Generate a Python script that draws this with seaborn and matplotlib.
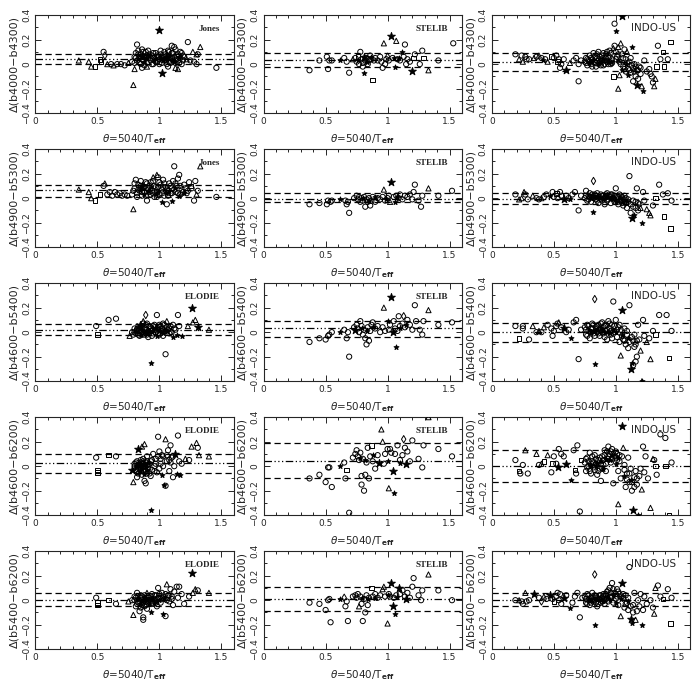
import pandas as pd
import seaborn as sns
import matplotlib.pyplot as plt
from matplotlib.ticker import MultipleLocator

# point kinds: c = circle, t = triangle, s = square, d = diamond, k = star, f = filled small star
jones_4000_4300 = [
    (0.35, 0.03, 't'), (0.43, 0.02, 't'), (0.45, -0.02, 't'), (0.48, -0.02, 's'), (0.52, 0.04, 's'),
    (0.53, 0.02, 's'), (0.55, 0.10, 'c'), (0.56, 0.07, 'd'), (0.58, 0.00, 't'), (0.61, 0.00, 'c'),
    (0.63, -0.01, 't'), (0.66, 0.00, 'c'), (0.69, 0.00, 'c'), (0.72, -0.01, 'c'), (0.75, 0.01, 't'),
    (0.79, -0.17, 't'), (0.80, -0.04, 't'), (0.82, 0.16, 'c'),
    (0.78, 0.02, 'c'), (0.80, 0.06, 'c'), (0.81, 0.09, 'c'), (0.82, 0.03, 'c'), (0.83, 0.11, 'c'),
    (0.84, 0.05, 'c'), (0.85, 0.00, 'c'), (0.85, 0.08, 'c'), (0.86, 0.12, 'c'), (0.87, 0.03, 'c'),
    (0.88, 0.06, 'c'), (0.89, 0.10, 'c'), (0.90, 0.01, 'c'), (0.91, 0.05, 'c'), (0.92, 0.08, 'c'),
    (0.93, 0.03, 'c'), (0.94, 0.07, 'c'), (0.95, 0.00, 'c'), (0.96, 0.05, 'c'), (0.97, 0.09, 'c'),
    (0.98, 0.02, 'c'), (0.99, 0.06, 'c'), (1.00, 0.04, 'c'), (1.01, 0.08, 'c'), (1.02, 0.01, 'c'),
    (1.03, 0.06, 'c'), (1.04, 0.10, 'c'), (1.05, 0.03, 'c'), (1.06, 0.07, 'c'), (1.07, 0.11, 'c'),
    (1.08, 0.02, 'c'), (1.09, 0.05, 'c'), (1.10, 0.09, 'c'), (1.11, 0.03, 'c'), (1.12, 0.06, 'c'),
    (1.13, 0.12, 'c'), (1.14, 0.04, 'c'), (1.15, 0.08, 'c'), (1.16, 0.01, 'c'), (1.17, 0.05, 'c'),
    (1.18, 0.09, 'c'), (1.19, 0.03, 'c'), (1.20, 0.06, 'c'),
    (0.83, 0.04, 'f'), (0.88, 0.02, 'f'), (0.92, 0.07, 'f'), (0.97, 0.04, 'f'), (1.03, 0.03, 'f'),
    (1.08, 0.07, 'f'), (1.12, 0.02, 'f'), (1.16, 0.06, 'f'), (0.86, 0.07, 'k'), (1.05, 0.05, 'k'),
    (0.90, -0.02, 't'), (1.13, -0.03, 't'), (1.15, -0.04, 't'), (1.27, 0.10, 't'), (1.33, 0.14, 't'),
    (1.30, 0.08, 't'), (1.22, 0.04, 't'),
    (1.00, 0.28, 'k'), (1.02, -0.07, 'k'), (1.10, 0.15, 'c'), (1.12, 0.14, 'c'), (1.23, 0.18, 'c'),
    (1.25, 0.03, 'c'), (1.28, 0.02, 'c'), (1.30, 0.00, 'c'), (1.31, 0.08, 'c'), (1.46, -0.03, 'c'),
    (1.07, -0.02, 'c'), (0.86, -0.03, 'c'),
]
jones_4000_4300_core = [
    (0.80, 0.01, 'c'), (0.81, 0.05, 'c'), (0.83, 0.08, 'c'), (0.84, 0.01, 'c'), (0.86, 0.04, 'c'),
    (0.87, 0.10, 'c'), (0.88, -0.01, 'c'), (0.90, 0.07, 'c'), (0.91, 0.11, 'c'), (0.93, 0.05, 'c'),
    (0.94, 0.00, 'c'), (0.95, 0.09, 'c'), (0.97, 0.02, 'c'), (0.98, 0.07, 'c'), (1.00, 0.00, 'c'),
    (1.01, 0.11, 'c'), (1.02, 0.05, 'c'), (1.04, 0.03, 'c'), (1.05, 0.08, 'c'), (1.06, 0.00, 'c'),
    (1.08, 0.10, 'c'), (1.09, 0.01, 'c'), (1.10, 0.05, 'c'), (1.11, 0.09, 'c'), (1.13, 0.01, 'c'),
    (1.14, 0.07, 'c'), (1.15, 0.03, 'c'), (1.17, 0.10, 'c'), (1.18, 0.00, 'c'), (1.19, 0.07, 'c'),
    (0.96, 0.03, 'f'), (1.01, 0.05, 'f'), (1.06, 0.05, 'f'), (1.10, 0.03, 'f'), (0.89, 0.05, 'f'),
]
stelib_4000_4300 = [
    (0.37, -0.05, 'c'), (0.45, 0.03, 'c'), (0.51, 0.06, 'c'), (0.52, -0.04, 'c'), (0.53, 0.03, 'c'),
    (0.55, 0.03, 'c'), (0.62, 0.03, 'f'), (0.65, 0.05, 'c'), (0.67, 0.02, 'c'), (0.69, -0.07, 'c'),
    (0.72, 0.04, 't'), (0.74, 0.05, 'c'), (0.75, 0.02, 'c'), (0.76, 0.06, 's'), (0.77, 0.00, 'c'),
    (0.78, 0.10, 'c'), (0.79, 0.04, 'c'), (0.80, 0.01, 'c'), (0.80, -0.02, 'c'), (0.81, -0.07, 'f'),
    (0.81, 0.06, 'k'), (0.82, 0.03, 'c'), (0.83, 0.05, 'c'), (0.84, 0.00, 'c'), (0.85, 0.03, 'c'),
    (0.86, 0.07, 'c'), (0.87, 0.04, 'c'), (0.88, -0.13, 's'), (0.89, 0.03, 'c'), (0.90, 0.05, 'c'),
    (0.92, 0.03, 'c'), (0.94, 0.06, 'c'), (0.95, 0.02, 'c'), (0.96, -0.03, 'c'), (0.97, 0.17, 't'),
    (0.98, 0.00, 'c'), (0.99, 0.04, 'c'), (1.00, 0.06, 'd'), (1.01, 0.03, 'c'), (1.03, 0.23, 'k'),
    (1.04, 0.05, 'c'), (1.05, 0.05, 'f'), (1.06, -0.02, 'f'), (1.07, 0.19, 't'), (1.08, 0.04, 'c'),
    (1.10, 0.03, 'c'), (1.12, 0.10, 'f'), (1.13, 0.06, 'c'), (1.14, 0.16, 'c'), (1.15, 0.00, 'c'),
    (1.16, 0.04, 'c'), (1.18, 0.02, 'c'), (1.20, -0.06, 'k'), (1.21, 0.05, 's'), (1.22, 0.08, 'c'),
    (1.26, 0.00, 'c'), (1.28, 0.11, 'c'), (1.29, 0.05, 's'), (1.33, -0.05, 't'), (1.41, 0.03, 'c'),
    (1.53, 0.17, 'c'), (0.83, 0.02, 'f'), (0.76, 0.03, 'f'), (0.87, 0.06, 'f'), (1.09, 0.05, 'f'),
]
indous_4000_4300 = [
    (0.19, 0.08, 'c'), (0.22, 0.04, 't'), (0.24, 0.07, 'c'), (0.25, 0.02, 't'), (0.27, 0.06, 'c'),
    (0.28, 0.04, 'c'), (0.30, 0.04, 'c'), (0.34, 0.05, 't'), (0.36, 0.06, 'c'), (0.38, 0.07, 't'),
    (0.40, 0.05, 'c'), (0.41, 0.03, 'f'), (0.43, 0.04, 'c'), (0.45, 0.02, 't'), (0.48, 0.06, 's'),
    (0.50, 0.05, 'c'), (0.52, 0.07, 'c'), (0.53, 0.02, 's'), (0.54, 0.04, 'c'), (0.55, -0.03, 'c'),
    (0.56, 0.00, 'c'), (0.58, 0.04, 'c'), (0.60, -0.05, 'k'), (0.63, 0.01, 't'), (0.66, 0.03, 'c'),
    (0.68, 0.05, 'c'), (0.70, 0.00, 'c'), (0.70, -0.14, 'c'), (0.72, 0.03, 'c'),
    (0.75, 0.02, 'c'), (0.76, 0.05, 'c'), (0.77, -0.01, 'c'), (0.78, 0.03, 'c'), (0.79, 0.07, 'c'),
    (0.80, 0.00, 'c'), (0.81, 0.04, 'c'), (0.82, 0.09, 'c'), (0.83, 0.02, 'c'), (0.84, -0.02, 'c'),
    (0.85, 0.05, 'c'), (0.86, 0.10, 'c'), (0.87, 0.01, 'c'), (0.88, 0.04, 'c'), (0.89, 0.07, 'c'),
    (0.90, -0.01, 'c'), (0.91, 0.03, 'c'), (0.92, 0.08, 'c'), (0.93, 0.02, 'c'), (0.94, 0.05, 'c'),
    (0.95, 0.11, 'c'), (0.96, 0.00, 'c'), (0.97, 0.04, 'c'), (0.98, 0.13, 't'), (0.78, 0.01, 'f'),
    (0.82, 0.03, 'f'), (0.86, 0.00, 'f'), (0.90, 0.04, 'f'), (0.94, 0.02, 'f'),
    (0.99, 0.33, 'c'), (1.00, 0.27, 'f'), (1.05, 0.39, 'k'), (0.99, 0.15, 'c'), (1.00, 0.10, 'c'),
    (1.01, 0.06, 'c'), (1.02, 0.14, 't'), (1.03, 0.02, 'c'), (1.04, 0.17, 't'), (1.05, 0.08, 'c'),
    (1.06, -0.02, 'c'), (1.07, 0.12, 'c'), (1.08, 0.04, 'c'), (1.09, 0.10, 't'), (1.10, -0.04, 'c'),
    (1.11, 0.02, 'c'), (1.12, -0.07, 'c'), (1.13, 0.14, 'f'), (1.14, -0.03, 'c'), (1.15, 0.00, 'c'),
    (1.16, -0.10, 'c'), (1.17, -0.05, 'c'), (1.18, -0.12, 'c'), (1.19, -0.02, 'c'), (1.20, -0.08, 'c'),
    (1.21, -0.18, 't'), (1.22, -0.22, 'f'), (1.17, -0.17, 'k'), (1.02, -0.20, 't'), (1.03, -0.09, 't'),
    (0.98, -0.10, 's'), (1.05, -0.05, 'f'), (1.10, -0.09, 'f'), (1.14, -0.14, 'c'), (1.23, 0.03, 'c'),
    (1.25, -0.06, 'c'), (1.28, -0.08, 'c'), (1.29, -0.10, 'c'), (1.30, -0.15, 'c'), (1.31, -0.18, 't'),
    (1.32, -0.12, 't'), (1.34, 0.15, 'c'), (1.33, -0.02, 's'), (1.36, 0.04, 'c'), (1.38, 0.10, 's'),
    (1.39, -0.02, 's'), (1.42, 0.04, 'c'), (1.44, 0.18, 's'), (1.27, -0.04, 'c'), (1.08, -0.06, 'c'),
    (1.12, 0.05, 'c'),
]
indous_4000_4300_core = [
    (0.76, 0.01, 'c'), (0.77, 0.04, 'c'), (0.79, 0.02, 'c'), (0.80, 0.05, 'c'), (0.81, -0.02, 'c'),
    (0.83, 0.06, 'c'), (0.84, 0.01, 'c'), (0.85, 0.08, 'c'), (0.86, 0.03, 'c'), (0.87, 0.06, 'c'),
    (0.88, -0.01, 'c'), (0.89, 0.03, 'c'), (0.90, 0.09, 'c'), (0.91, 0.00, 'c'), (0.92, 0.05, 'c'),
    (0.93, 0.10, 'c'), (0.94, 0.00, 'c'), (0.95, 0.06, 'c'), (0.96, 0.09, 'c'), (0.97, 0.01, 'c'),
    (1.00, 0.04, 'c'), (1.02, 0.08, 'c'), (1.04, 0.00, 'c'), (1.06, 0.05, 'c'), (1.07, -0.04, 'c'),
    (1.09, 0.01, 'c'), (1.11, -0.05, 'c'), (1.13, -0.01, 'c'), (1.15, -0.06, 'c'), (1.16, -0.02, 'c'),
    (1.18, -0.05, 'c'), (1.20, -0.03, 'c'), (0.80, 0.02, 'f'), (0.88, 0.02, 'f'), (0.96, 0.02, 'f'),
    (1.02, 0.03, 'f'), (1.08, 0.00, 'f'),
]
jones_4900_5300 = [
    (0.35, 0.07, 't'), (0.43, 0.05, 't'), (0.45, 0.00, 't'), (0.48, -0.02, 's'), (0.52, 0.03, 's'),
    (0.55, 0.10, 'c'), (0.56, 0.12, 't'), (0.58, 0.03, 'c'), (0.60, 0.05, 'c'), (0.62, 0.02, 'c'),
    (0.64, 0.05, 'c'), (0.66, 0.03, 'c'), (0.68, 0.04, 'c'), (0.70, 0.02, 'c'), (0.72, 0.03, 'c'),
    (0.74, 0.02, 'c'), (0.79, -0.09, 't'),
    (0.78, 0.03, 'c'), (0.80, 0.08, 'c'), (0.81, 0.15, 'c'), (0.82, 0.04, 'c'), (0.83, 0.11, 'c'),
    (0.84, 0.06, 'c'), (0.85, 0.14, 'c'), (0.86, 0.02, 'c'), (0.87, 0.09, 'c'), (0.88, 0.05, 'c'),
    (0.89, 0.13, 'c'), (0.90, -0.02, 'c'), (0.91, 0.07, 'c'), (0.92, 0.10, 'c'), (0.93, 0.03, 'c'),
    (0.94, 0.06, 'c'), (0.95, 0.14, 'c'), (0.96, 0.01, 'c'), (0.97, 0.09, 'c'), (0.98, 0.05, 'c'),
    (0.99, 0.17, 'c'), (1.00, 0.03, 'c'), (1.01, 0.11, 'c'), (1.02, 0.07, 'c'), (1.03, 0.15, 'c'),
    (1.04, 0.02, 'c'), (1.05, 0.09, 'c'), (1.06, -0.05, 'c'), (1.07, 0.06, 'c'), (1.08, 0.12, 'c'),
    (1.09, 0.04, 'c'), (1.10, 0.08, 'c'), (1.11, 0.14, 'c'), (1.12, 0.26, 'c'), (1.13, 0.05, 'c'),
    (1.14, 0.10, 'c'), (1.15, 0.16, 'c'), (1.16, 0.19, 'c'), (1.17, 0.03, 'c'), (1.18, 0.07, 'c'),
    (1.20, 0.11, 'c'), (1.22, 0.04, 'c'), (1.24, 0.13, 'c'), (1.26, 0.08, 'c'), (1.28, -0.02, 'c'),
    (1.29, 0.14, 'c'), (1.30, 0.03, 't'), (1.31, 0.06, 'c'), (1.33, 0.26, 't'), (1.46, 0.01, 'c'),
    (0.98, 0.19, 't'), (0.95, 0.17, 't'), (1.02, -0.03, 'f'), (1.10, -0.02, 'f'), (0.84, 0.07, 'f'),
    (0.88, 0.03, 'f'), (0.93, 0.09, 'f'), (0.99, 0.06, 'f'), (1.05, 0.04, 'f'), (1.13, 0.08, 'f'),
    (1.16, 0.02, 'f'), (1.25, 0.10, 's'), (0.86, 0.10, 'k'),
]
jones_4900_5300_core = [
    (0.79, 0.06, 'c'), (0.80, 0.12, 'c'), (0.82, 0.01, 'c'), (0.83, 0.07, 'c'), (0.85, 0.10, 'c'),
    (0.86, 0.05, 'c'), (0.88, 0.09, 'c'), (0.89, 0.02, 'c'), (0.90, 0.12, 'c'), (0.92, 0.05, 'c'),
    (0.93, 0.13, 'c'), (0.95, 0.04, 'c'), (0.96, 0.10, 'c'), (0.98, 0.01, 'c'), (0.99, 0.09, 'c'),
    (1.00, 0.13, 'c'), (1.02, 0.04, 'c'), (1.03, 0.09, 'c'), (1.04, 0.12, 'c'), (1.06, 0.07, 'c'),
    (1.07, 0.02, 'c'), (1.09, 0.10, 'c'), (1.10, 0.04, 'c'), (1.12, 0.07, 'c'), (1.13, 0.12, 'c'),
    (1.15, 0.04, 'c'), (1.17, 0.10, 'c'), (1.19, 0.05, 'c'), (1.21, 0.08, 'c'), (1.23, 0.06, 'c'),
    (0.91, 0.06, 'f'), (0.97, 0.03, 'f'), (1.08, 0.06, 'f'), (1.20, 0.04, 'f'),
]
stelib_4900_5300 = [
    (0.37, -0.05, 'c'), (0.45, -0.04, 'c'), (0.51, -0.05, 'c'), (0.52, -0.02, 'c'), (0.54, -0.03, 'c'),
    (0.55, -0.02, 'c'), (0.62, -0.01, 'f'), (0.66, -0.02, 'c'), (0.67, -0.05, 'c'), (0.68, -0.03, 'c'),
    (0.69, -0.12, 'c'), (0.73, 0.00, 'c'), (0.75, 0.02, 'c'), (0.76, -0.01, 'c'), (0.77, 0.01, 'c'),
    (0.78, -0.03, 'c'), (0.79, 0.00, 'c'), (0.80, -0.02, 'c'), (0.81, 0.01, 'c'), (0.82, -0.07, 'c'),
    (0.83, -0.01, 'c'), (0.84, -0.03, 'c'), (0.85, 0.00, 'c'), (0.86, -0.06, 'c'), (0.87, -0.02, 'c'),
    (0.88, 0.01, 'c'), (0.90, -0.03, 'c'), (0.92, 0.00, 'c'), (0.94, -0.01, 'c'), (0.96, 0.01, 'c'),
    (0.97, 0.07, 't'), (0.98, -0.02, 'c'), (1.00, 0.00, 'c'), (1.01, 0.02, 'c'), (1.02, -0.03, 't'),
    (1.03, 0.13, 'k'), (1.05, 0.01, 'c'), (1.06, -0.03, 'f'), (1.07, 0.02, 'c'), (1.09, 0.00, 'c'),
    (1.10, 0.03, 'c'), (1.12, -0.01, 'c'), (1.14, 0.02, 'c'), (1.16, 0.01, 'c'), (1.18, 0.03, 'c'),
    (1.20, -0.01, 'c'), (1.21, 0.05, 'c'), (1.22, 0.11, 'c'), (1.25, -0.02, 'c'), (1.27, -0.07, 'c'),
    (1.28, 0.02, 'c'), (1.33, 0.08, 't'), (1.41, 0.02, 'c'), (1.52, 0.06, 'c'), (0.80, 0.00, 'f'),
    (0.85, -0.02, 'f'), (0.90, 0.01, 'f'), (0.99, -0.01, 'f'), (1.08, 0.01, 'f'),
]
indous_4900_5300 = [
    (0.19, 0.03, 'c'), (0.22, -0.01, 't'), (0.24, 0.00, 't'), (0.26, 0.05, 't'), (0.27, 0.03, 'c'),
    (0.29, -0.01, 'c'), (0.33, 0.02, 't'), (0.36, 0.00, 'c'), (0.38, -0.01, 'c'), (0.40, 0.00, 't'),
    (0.42, 0.01, 'c'), (0.44, 0.03, 'c'), (0.47, 0.02, 'f'), (0.49, 0.05, 'c'), (0.50, 0.01, 'c'),
    (0.52, 0.04, 's'), (0.53, 0.00, 'c'), (0.55, 0.05, 'c'), (0.56, 0.02, 'c'), (0.58, -0.01, 'k'),
    (0.60, 0.02, 'c'), (0.62, 0.00, 'c'), (0.63, -0.01, 'f'), (0.65, 0.03, 'c'), (0.67, 0.05, 'c'),
    (0.70, -0.10, 'c'), (0.72, 0.02, 'c'),
    (0.75, 0.00, 'c'), (0.76, 0.06, 'c'), (0.77, -0.02, 'c'), (0.78, 0.02, 'c'), (0.79, 0.04, 'c'),
    (0.80, -0.03, 'c'), (0.81, 0.01, 'c'), (0.82, 0.14, 'd'), (0.82, -0.11, 'f'), (0.83, 0.03, 'c'),
    (0.84, -0.01, 'c'), (0.85, 0.04, 'c'), (0.86, -0.04, 'c'), (0.87, 0.01, 'c'), (0.88, 0.03, 'c'),
    (0.89, -0.02, 'c'), (0.90, 0.02, 'c'), (0.91, -0.05, 'c'), (0.92, 0.01, 'c'), (0.93, 0.04, 'c'),
    (0.94, -0.01, 'c'), (0.95, 0.02, 'c'), (0.96, -0.04, 'c'), (0.97, 0.03, 'c'), (0.98, 0.00, 'c'),
    (0.99, -0.03, 'c'), (1.00, 0.08, 'c'), (1.01, 0.01, 'c'), (1.02, -0.05, 'c'), (1.03, 0.03, 'c'),
    (1.04, -0.02, 'c'), (1.05, 0.01, 'c'), (1.06, -0.06, 'c'), (1.07, 0.02, 'c'), (1.08, -0.04, 'c'),
    (1.09, -0.08, 'c'), (1.10, -0.01, 'c'), (1.11, 0.18, 'c'), (1.12, -0.12, 'c'), (1.13, -0.16, 'k'),
    (1.14, -0.07, 'c'), (1.15, -0.14, 'f'), (1.16, -0.03, 'c'), (1.17, 0.08, 'c'), (1.18, -0.10, 'c'),
    (1.19, -0.05, 'c'), (1.20, -0.08, 't'), (1.21, -0.20, 'f'), (1.22, 0.05, 'c'), (1.23, -0.02, 'c'),
    (1.25, -0.09, 't'), (1.27, -0.12, 't'), (1.28, -0.14, 't'), (1.30, -0.06, 'c'), (1.32, 0.00, 's'),
    (1.35, 0.11, 'c'), (1.38, 0.03, 'c'), (1.39, -0.15, 's'), (1.42, 0.04, 'c'), (1.44, -0.25, 's'),
    (1.45, -0.02, 'c'), (0.80, 0.00, 'f'), (0.85, 0.01, 'f'), (0.90, -0.01, 'f'), (0.95, 0.00, 'f'),
    (1.00, -0.02, 'f'), (1.05, -0.03, 'f'),
]
indous_4900_5300_core = [
    (0.76, 0.02, 'c'), (0.78, -0.01, 'c'), (0.79, 0.01, 'c'), (0.81, 0.03, 'c'), (0.82, 0.00, 'c'),
    (0.84, 0.02, 'c'), (0.85, -0.02, 'c'), (0.86, 0.01, 'c'), (0.88, -0.01, 'c'), (0.89, 0.02, 'c'),
    (0.91, 0.00, 'c'), (0.92, 0.03, 'c'), (0.93, -0.02, 'c'), (0.95, 0.01, 'c'), (0.96, 0.03, 'c'),
    (0.98, -0.01, 'c'), (0.99, 0.02, 'c'), (1.01, -0.02, 'c'), (1.02, 0.01, 'c'), (1.04, 0.02, 'c'),
    (1.05, -0.04, 'c'), (1.07, -0.01, 'c'), (1.08, 0.00, 'c'), (1.10, -0.03, 'c'), (1.12, -0.05, 'c'),
    (1.14, -0.02, 'c'), (1.16, -0.08, 'c'), (1.18, -0.04, 'c'), (0.83, 0.01, 'f'), (0.87, 0.00, 'f'),
    (0.92, 0.01, 'f'), (0.97, 0.00, 'f'), (1.03, 0.00, 'f'), (1.09, -0.02, 'f'),
]
elodie_4600_5400 = [
    (0.49, 0.05, 'c'), (0.50, -0.02, 's'), (0.59, 0.10, 'c'), (0.65, 0.11, 'c'), (0.76, -0.03, 't'),
    (0.78, 0.00, 'c'), (0.79, -0.02, 'c'), (0.80, 0.03, 'c'), (0.81, -0.01, 'c'), (0.82, 0.05, 't'),
    (0.83, 0.01, 'c'), (0.84, -0.03, 'c'), (0.85, 0.04, 'c'), (0.86, 0.00, 'c'), (0.87, 0.07, 'c'),
    (0.88, -0.02, 'c'), (0.89, 0.14, 'd'), (0.90, 0.02, 'c'), (0.91, -0.04, 'c'), (0.92, 0.05, 'c'),
    (0.93, -0.25, 'f'), (0.94, 0.01, 'c'), (0.95, -0.01, 'c'), (0.96, 0.04, 'c'), (0.97, 0.00, 'c'),
    (0.98, 0.14, 'c'), (0.99, 0.03, 'c'), (1.00, -0.02, 'c'), (1.01, 0.05, 'c'), (1.02, 0.01, 'c'),
    (1.03, -0.03, 'c'), (1.04, 0.06, 'c'), (1.05, -0.18, 'c'), (1.06, 0.09, 't'), (1.07, 0.02, 'c'),
    (1.08, -0.01, 'c'), (1.09, 0.05, 'c'), (1.10, 0.00, 'c'), (1.11, -0.04, 'f'), (1.12, 0.03, 'c'),
    (1.14, -0.02, 'f'), (1.15, 0.14, 'c'), (1.16, 0.05, 'c'), (1.18, -0.03, 'f'), (1.23, 0.05, 't'),
    (1.26, 0.20, 'k'), (1.27, 0.08, 't'), (1.29, 0.10, 't'), (1.31, 0.04, 'k'), (1.40, 0.02, 't'),
    (0.83, 0.04, 'f'), (0.86, 0.02, 'f'), (0.89, -0.01, 'f'), (0.92, 0.01, 'f'), (0.95, 0.03, 'f'),
    (0.98, -0.03, 'f'), (1.01, 0.00, 'f'), (1.04, 0.02, 'f'), (0.87, 0.09, 't'), (0.84, 0.06, 'k'),
    (0.81, 0.01, 'f'), (1.00, 0.06, 'c'), (0.90, 0.07, 'c'), (0.96, 0.06, 'c'),
]
elodie_4600_5400_core = [
    (0.80, 0.00, 'c'), (0.82, 0.02, 'c'), (0.83, -0.02, 'c'), (0.85, 0.01, 'c'), (0.86, 0.05, 'c'),
    (0.87, -0.01, 'c'), (0.88, 0.03, 'c'), (0.89, 0.06, 'c'), (0.90, -0.02, 'c'), (0.91, 0.01, 'c'),
    (0.93, 0.03, 'c'), (0.94, -0.03, 'c'), (0.95, 0.05, 'c'), (0.97, 0.02, 'c'), (0.99, -0.01, 'c'),
    (1.00, 0.04, 'c'), (1.02, 0.03, 'c'), (1.03, 0.07, 'c'), (1.05, 0.01, 'c'), (1.06, 0.04, 'c'),
    (1.08, 0.03, 'c'), (1.09, 0.00, 'c'), (1.11, 0.06, 'c'), (1.13, 0.02, 'c'), (0.85, -0.02, 'f'),
    (0.88, 0.00, 'f'), (0.91, 0.02, 'f'), (0.94, 0.00, 'f'), (0.97, 0.03, 'f'), (1.00, 0.01, 'f'),
    (1.03, -0.01, 'f'), (1.06, 0.01, 'f'),
]
stelib_4600_5400 = [
    (0.37, -0.08, 'c'), (0.45, -0.05, 'c'), (0.50, -0.06, 'c'), (0.52, -0.03, 'c'), (0.53, -0.02, 'c'),
    (0.55, 0.00, 'c'), (0.62, 0.00, 'f'), (0.65, 0.02, 'c'), (0.67, -0.05, 'c'), (0.68, 0.00, 'c'),
    (0.69, -0.20, 'c'), (0.73, 0.04, 'c'), (0.74, 0.02, 'k'), (0.75, 0.06, 'c'), (0.76, 0.03, 'c'),
    (0.77, 0.00, 'c'), (0.78, 0.09, 'c'), (0.79, 0.05, 'c'), (0.80, -0.02, 'c'), (0.81, 0.02, 'c'),
    (0.82, -0.05, 'c'), (0.83, -0.10, 'c'), (0.84, 0.04, 'c'), (0.85, -0.07, 'c'), (0.86, 0.01, 'c'),
    (0.87, 0.06, 'c'), (0.88, 0.08, 'c'), (0.90, 0.03, 'c'), (0.92, 0.05, 'c'), (0.94, 0.00, 'c'),
    (0.96, 0.04, 'c'), (0.97, 0.20, 't'), (0.98, 0.01, 'c'), (1.00, 0.09, 'f'), (1.01, 0.02, 'c'),
    (1.02, 0.06, 'c'), (1.03, 0.29, 'k'), (1.04, 0.00, 'k'), (1.05, 0.09, 'c'), (1.06, 0.03, 'c'),
    (1.07, -0.12, 'f'), (1.08, 0.01, 'c'), (1.09, 0.13, 'c'), (1.10, 0.05, 'c'), (1.12, 0.07, 'c'),
    (1.13, 0.13, 'd'), (1.14, 0.04, 'c'), (1.16, 0.10, 'c'), (1.18, 0.06, 'c'), (1.20, 0.02, 'c'),
    (1.22, 0.22, 'c'), (1.23, 0.09, 'c'), (1.26, 0.02, 'c'), (1.28, -0.02, 'c'), (1.29, 0.09, 'c'),
    (1.33, 0.18, 't'), (1.41, 0.06, 'c'), (1.52, 0.08, 'c'), (0.79, 0.03, 'f'), (0.83, 0.01, 'f'),
    (0.88, 0.04, 'f'), (1.10, 0.03, 'f'), (1.15, 0.06, 'f'),
]
indous_4600_5400 = [
    (0.19, 0.05, 'c'), (0.22, -0.05, 's'), (0.25, 0.03, 'c'), (0.25, 0.05, 'c'), (0.30, -0.06, 'c'),
    (0.33, 0.05, 't'), (0.36, 0.00, 'c'), (0.38, 0.01, 't'), (0.40, 0.00, 'c'), (0.42, 0.04, 't'),
    (0.45, 0.06, 'c'), (0.48, 0.03, 'c'), (0.49, -0.03, 'c'), (0.50, 0.01, 'c'), (0.52, 0.05, 'c'),
    (0.53, 0.07, 'c'), (0.54, 0.08, 't'), (0.56, 0.04, 'c'), (0.58, 0.03, 'k'), (0.60, 0.00, 'c'),
    (0.62, 0.02, 'c'), (0.64, -0.05, 'f'), (0.66, 0.08, 'c'), (0.68, 0.10, 'c'), (0.70, -0.22, 'c'),
    (0.72, 0.02, 'c'),
    (0.75, 0.04, 'c'), (0.76, -0.02, 'c'), (0.77, 0.06, 'c'), (0.78, 0.01, 'c'), (0.79, -0.05, 'c'),
    (0.80, 0.03, 'c'), (0.81, 0.07, 'c'), (0.82, -0.01, 'c'), (0.83, 0.27, 'd'), (0.83, -0.26, 'f'),
    (0.84, 0.04, 'c'), (0.85, 0.00, 'c'), (0.86, 0.06, 'c'), (0.87, -0.03, 'c'), (0.88, 0.02, 'c'),
    (0.89, 0.08, 'c'), (0.90, -0.01, 'c'), (0.91, 0.05, 'c'), (0.92, 0.01, 'c'), (0.93, -0.06, 'c'),
    (0.94, 0.09, 'c'), (0.95, 0.03, 'c'), (0.96, -0.02, 'c'), (0.97, 0.06, 'c'), (0.98, 0.25, 'c'),
    (0.99, 0.00, 'c'), (1.00, 0.10, 'c'), (1.01, -0.04, 'c'), (1.02, 0.04, 'c'), (1.03, -0.08, 'c'),
    (1.04, 0.02, 'c'), (1.05, 0.18, 'k'), (1.06, -0.06, 'c'), (1.07, 0.03, 'c'), (1.08, -0.10, 'c'),
    (1.09, -0.02, 'c'), (1.10, -0.13, 'c'), (1.11, 0.22, 'c'), (1.12, -0.30, 'k'), (1.13, -0.25, 'f'),
    (1.14, -0.07, 'c'), (1.15, -0.02, 'c'), (1.16, -0.10, 'c'), (1.17, -0.20, 'c'), (1.18, 0.06, 'c'),
    (1.19, -0.06, 'c'), (1.20, -0.15, 't'), (1.21, -0.40, 'f'), (1.22, 0.10, 'c'), (1.23, -0.03, 'c'),
    (1.25, -0.08, 't'), (1.27, -0.05, 'c'), (1.28, -0.22, 't'), (1.30, 0.01, 'c'), (1.32, -0.02, 's'),
    (1.35, 0.14, 'c'), (1.41, 0.14, 'c'), (1.43, -0.21, 's'), (1.45, 0.01, 'c'), (1.04, -0.19, 't'),
    (0.80, 0.00, 'f'), (0.85, 0.02, 'f'), (0.90, 0.01, 'f'), (0.95, -0.01, 'f'), (1.00, 0.00, 'f'),
    (1.10, -0.05, 'f'), (1.14, -0.27, 'c'), (1.16, -0.24, 'c'),
]
indous_4600_5400_core = [
    (0.76, 0.02, 'c'), (0.77, -0.03, 'c'), (0.78, 0.05, 'c'), (0.80, 0.00, 'c'), (0.81, 0.03, 'c'),
    (0.82, 0.06, 'c'), (0.83, -0.03, 'c'), (0.84, 0.01, 'c'), (0.85, 0.05, 'c'), (0.86, -0.01, 'c'),
    (0.87, 0.03, 'c'), (0.88, 0.07, 'c'), (0.89, 0.00, 'c'), (0.90, 0.04, 'c'), (0.91, -0.04, 'c'),
    (0.92, 0.06, 'c'), (0.93, 0.02, 'c'), (0.95, 0.07, 'c'), (0.96, 0.01, 'c'), (0.97, -0.05, 'c'),
    (0.99, 0.05, 'c'), (1.01, 0.02, 'c'), (1.03, 0.06, 'c'), (1.05, -0.03, 'c'), (1.07, -0.07, 'c'),
    (1.09, 0.01, 'c'), (1.11, -0.08, 'c'), (1.13, -0.04, 'c'), (1.15, -0.12, 'c'), (1.17, -0.07, 'c'),
    (0.78, 0.02, 'f'), (0.83, 0.01, 'f'), (0.88, 0.03, 'f'), (0.93, 0.00, 'f'), (0.98, 0.02, 'f'),
    (1.05, -0.02, 'f'),
]
elodie_4600_6200 = [
    (0.49, 0.07, 'c'), (0.50, -0.03, 's'), (0.50, -0.05, 's'), (0.59, 0.09, 's'), (0.65, 0.08, 'c'),
    (0.78, -0.03, 'k'), (0.79, -0.13, 't'), (0.80, 0.00, 'c'), (0.81, 0.03, 'c'), (0.82, -0.05, 'c'),
    (0.82, -0.09, 'c'), (0.83, 0.14, 'k'), (0.83, 0.01, 'c'), (0.84, -0.02, 'c'), (0.85, 0.05, 'c'),
    (0.86, -0.07, 'c'), (0.86, 0.16, 't'), (0.87, 0.02, 'c'), (0.88, -0.12, 'c'), (0.88, 0.18, 't'),
    (0.89, -0.04, 'c'), (0.89, -0.14, 'c'), (0.90, 0.08, 'c'), (0.91, 0.01, 'c'), (0.92, -0.06, 'c'),
    (0.93, -0.36, 'f'), (0.93, 0.04, 'c'), (0.94, -0.03, 'c'), (0.95, 0.10, 'c'), (0.96, 0.00, 'c'),
    (0.97, 0.06, 'c'), (0.98, -0.05, 'c'), (0.99, 0.24, 'c'), (1.00, 0.12, 'c'), (1.01, 0.02, 'c'),
    (1.02, -0.07, 'f'), (1.03, 0.08, 'c'), (1.04, -0.15, 'f'), (1.05, -0.16, 'c'), (1.05, 0.22, 't'),
    (1.06, 0.04, 'c'), (1.07, 0.13, 'c'), (1.08, -0.04, 'c'), (1.09, 0.17, 'c'), (1.10, 0.07, 'c'),
    (1.11, -0.09, 'c'), (1.12, 0.00, 'c'), (1.13, 0.10, 'k'), (1.14, -0.06, 'f'), (1.15, 0.25, 'c'),
    (1.16, 0.04, 'c'), (1.17, -0.07, 'f'), (1.18, 0.02, 'c'), (1.21, 0.06, 't'), (1.24, 0.05, 'c'),
    (1.26, 0.16, 't'), (1.30, 0.19, 't'), (1.31, 0.15, 'c'), (1.32, 0.09, 't'), (1.40, 0.08, 't'),
    (0.82, 0.00, 'f'), (0.84, 0.02, 'f'), (0.86, -0.02, 'f'), (0.88, 0.01, 'f'), (0.90, -0.03, 'f'),
    (0.87, 0.04, 'c'), (0.85, -0.04, 'c'), (1.02, 0.09, 'c'), (1.08, 0.05, 'c'),
]
elodie_4600_6200_core = [
    (0.80, 0.02, 'c'), (0.81, -0.03, 'c'), (0.82, 0.04, 'c'), (0.83, -0.06, 'c'), (0.84, 0.01, 'c'),
    (0.85, 0.03, 'c'), (0.85, -0.01, 'c'), (0.86, 0.02, 'c'), (0.87, -0.04, 'c'), (0.87, 0.06, 'c'),
    (0.88, 0.00, 'c'), (0.89, 0.03, 'c'), (0.90, -0.06, 'c'), (0.90, 0.04, 'c'), (0.91, -0.02, 'c'),
    (0.92, 0.02, 'c'), (0.93, -0.08, 'c'), (0.94, 0.05, 'c'), (0.96, -0.04, 'c'), (0.97, 0.02, 'c'),
    (0.99, 0.08, 'c'), (1.00, -0.02, 'c'), (1.01, 0.06, 'c'), (1.03, 0.00, 'c'), (1.06, 0.09, 'c'),
    (1.09, 0.03, 'c'), (1.11, 0.08, 'c'), (0.81, 0.00, 'f'), (0.83, 0.03, 'f'), (0.85, 0.00, 'f'),
    (0.87, 0.01, 'f'), (0.89, -0.01, 'f'), (0.91, 0.03, 'f'), (0.84, -0.04, 'f'), (0.88, -0.06, 'f'),
]
stelib_4600_6200 = [
    (0.37, -0.10, 'c'), (0.45, -0.07, 'c'), (0.50, -0.13, 'c'), (0.52, -0.01, 'c'), (0.53, -0.01, 'c'),
    (0.55, -0.17, 'c'), (0.62, 0.00, 'f'), (0.65, 0.03, 'c'), (0.66, -0.10, 'c'), (0.67, -0.03, 's'),
    (0.69, -0.38, 'c'), (0.72, 0.07, 'c'), (0.74, 0.10, 'c'), (0.75, 0.13, 'c'), (0.76, 0.08, 'c'),
    (0.77, 0.05, 'c'), (0.78, 0.11, 'c'), (0.79, -0.08, 'c'), (0.79, -0.15, 'c'), (0.80, 0.06, 'c'),
    (0.81, -0.20, 'c'), (0.82, -0.07, 'c'), (0.83, 0.03, 'c'), (0.84, 0.15, 'c'), (0.85, -0.10, 'c'),
    (0.86, 0.08, 'c'), (0.87, 0.17, 's'), (0.88, 0.04, 'c'), (0.90, -0.02, 'c'), (0.92, 0.09, 'c'),
    (0.93, 0.03, 'k'), (0.95, 0.30, 't'), (0.96, 0.20, 't'), (0.97, 0.02, 'c'), (0.98, 0.10, 'c'),
    (1.00, 0.14, 'c'), (1.01, -0.18, 't'), (1.02, 0.14, 'c'), (1.03, 0.11, 'c'), (1.04, -0.04, 'k'),
    (1.05, -0.22, 'f'), (1.06, 0.10, 'c'), (1.08, 0.17, 'c'), (1.10, 0.05, 'c'), (1.12, 0.09, 'c'),
    (1.13, 0.22, 'd'), (1.14, 0.15, 'c'), (1.15, 0.02, 'k'), (1.16, 0.12, 'c'), (1.18, 0.04, 'c'),
    (1.20, 0.21, 'c'), (1.25, 0.06, 'c'), (1.28, -0.01, 'c'), (1.29, 0.17, 'c'), (1.33, 0.40, 't'),
    (1.41, 0.14, 'c'), (1.52, 0.08, 'c'), (0.78, 0.07, 'f'), (0.82, 0.05, 'f'), (0.88, 0.09, 'f'),
    (1.00, 0.04, 'f'), (1.10, 0.03, 'f'),
]
indous_4600_6200 = [
    (0.19, 0.05, 'c'), (0.22, -0.04, 's'), (0.23, -0.06, 'c'), (0.25, 0.01, 'c'), (0.27, 0.13, 't'),
    (0.29, -0.06, 'c'), (0.36, 0.10, 't'), (0.38, 0.01, 'c'), (0.40, 0.02, 't'), (0.42, 0.04, 's'),
    (0.45, 0.09, 't'), (0.48, -0.05, 'c'), (0.49, 0.02, 's'), (0.50, 0.08, 'c'), (0.52, 0.02, 'c'),
    (0.53, -0.01, 'k'), (0.54, 0.14, 'c'), (0.56, 0.10, 'c'), (0.58, 0.08, 'c'), (0.60, 0.02, 'k'),
    (0.64, -0.11, 'f'), (0.66, 0.13, 'c'), (0.67, -0.03, 's'), (0.68, -0.06, 'c'), (0.69, 0.17, 'c'),
    (0.71, -0.37, 'c'), (0.72, 0.05, 's'),
    (0.75, 0.03, 'c'), (0.76, -0.04, 'c'), (0.77, 0.07, 'c'), (0.78, 0.00, 'c'), (0.79, 0.11, 'c'),
    (0.80, -0.06, 'c'), (0.81, 0.04, 'c'), (0.82, -0.01, 'c'), (0.83, 0.09, 'c'), (0.84, 0.02, 'c'),
    (0.85, -0.07, 'c'), (0.86, 0.05, 'c'), (0.87, -0.02, 'c'), (0.88, -0.12, 'c'), (0.89, 0.08, 'c'),
    (0.90, 0.01, 'c'), (0.91, 0.13, 'c'), (0.92, -0.04, 'c'), (0.93, 0.06, 'c'), (0.94, 0.16, 'c'),
    (0.95, 0.10, 'c'), (0.96, 0.03, 'c'), (0.97, 0.14, 'c'), (0.98, -0.14, 'c'), (0.99, 0.08, 'c'),
    (1.00, 0.12, 'c'), (1.01, 0.05, 'c'), (1.02, -0.04, 'c'), (1.03, 0.09, 'c'), (1.04, -0.10, 'c'),
    (1.05, 0.33, 'k'), (1.06, 0.15, 't'), (1.07, 0.01, 'c'), (1.08, -0.17, 'c'), (1.09, -0.06, 'c'),
    (1.10, 0.07, 'c'), (1.11, -0.13, 'c'), (1.12, -0.02, 'c'), (1.13, -0.20, 'c'), (1.14, -0.36, 'k'),
    (1.15, -0.09, 'c'), (1.16, -0.04, 'c'), (1.17, -0.15, 'c'), (1.18, -0.40, 'f'), (1.19, -0.08, 'c'),
    (1.20, -0.02, 'c'), (1.21, -0.19, 't'), (1.22, 0.16, 'c'), (1.23, -0.05, 'c'), (1.24, 0.08, 'c'),
    (1.26, -0.10, 'c'), (1.28, -0.34, 't'), (1.30, 0.06, 't'), (1.31, 0.05, 'c'), (1.32, 0.00, 's'),
    (1.33, -0.07, 'c'), (1.36, 0.26, 'c'), (1.40, 0.23, 'c'), (1.40, 0.00, 's'), (1.43, -0.40, 's'),
    (1.45, 0.03, 'c'), (1.02, -0.31, 't'), (0.80, 0.00, 'f'), (0.85, 0.03, 'f'), (0.90, -0.02, 'f'),
    (0.95, 0.05, 'f'), (1.00, 0.02, 'f'), (1.07, -0.08, 'f'), (1.12, -0.11, 'f'),
]
indous_4600_6200_core = [
    (0.76, 0.06, 'c'), (0.77, -0.01, 'c'), (0.78, 0.04, 'c'), (0.79, -0.04, 'c'), (0.80, 0.02, 'c'),
    (0.81, 0.08, 'c'), (0.82, 0.03, 'c'), (0.83, -0.03, 'c'), (0.84, 0.06, 'c'), (0.85, 0.01, 'c'),
    (0.86, -0.04, 'c'), (0.87, 0.07, 'c'), (0.88, 0.02, 'c'), (0.89, -0.02, 'c'), (0.90, 0.05, 'c'),
    (0.91, 0.09, 'c'), (0.92, 0.02, 'c'), (0.93, 0.12, 'c'), (0.94, 0.08, 'c'), (0.96, 0.12, 'c'),
    (0.97, 0.06, 'c'), (0.98, 0.10, 'c'), (1.00, 0.07, 'c'), (1.01, 0.10, 'c'), (1.03, 0.04, 'c'),
    (1.05, 0.08, 'c'), (1.07, -0.03, 'c'), (1.09, -0.11, 'c'), (1.11, -0.06, 'c'), (1.13, -0.13, 'c'),
    (1.15, -0.17, 'c'), (1.17, -0.10, 'c'), (0.79, 0.01, 'f'), (0.84, 0.00, 'f'), (0.88, 0.04, 'f'),
    (0.92, 0.06, 'f'), (0.97, 0.09, 'f'), (1.02, 0.07, 'f'),
]
elodie_5400_6200 = [
    (0.49, 0.02, 'c'), (0.50, -0.02, 's'), (0.50, -0.04, 's'), (0.59, 0.00, 's'), (0.65, -0.03, 'c'),
    (0.75, -0.01, 't'), (0.78, 0.00, 'c'), (0.79, -0.12, 't'), (0.80, 0.03, 'c'), (0.81, -0.05, 'c'),
    (0.82, 0.06, 'c'), (0.83, -0.02, 'c'), (0.84, -0.09, 'c'), (0.85, 0.02, 'c'), (0.86, -0.04, 'c'),
    (0.87, -0.14, 'c'), (0.87, -0.16, 'c'), (0.88, 0.04, 'c'), (0.89, -0.01, 'c'), (0.90, -0.07, 'c'),
    (0.91, 0.03, 'c'), (0.92, 0.00, 'c'), (0.93, -0.10, 'f'), (0.94, 0.05, 'c'), (0.95, -0.03, 'c'),
    (0.96, 0.01, 'c'), (0.97, 0.04, 'c'), (0.98, -0.05, 'c'), (0.99, 0.10, 'c'), (1.00, 0.02, 'c'),
    (1.01, -0.02, 'c'), (1.02, 0.06, 'c'), (1.03, -0.11, 'f'), (1.04, 0.01, 'c'), (1.05, -0.13, 'c'),
    (1.06, 0.13, 't'), (1.07, 0.04, 'c'), (1.08, -0.01, 'c'), (1.09, 0.09, 'c'), (1.10, 0.03, 'c'),
    (1.11, -0.04, 'c'), (1.12, 0.07, 'c'), (1.14, 0.11, 'c'), (1.15, 0.02, 'c'), (1.16, 0.11, 'c'),
    (1.18, 0.05, 'c'), (1.20, -0.03, 'c'), (1.24, 0.03, 'c'), (1.26, 0.22, 'k'), (1.27, 0.06, 't'),
    (1.29, 0.09, 't'), (1.31, 0.08, 'c'), (1.40, 0.06, 't'), (0.83, 0.01, 'f'), (0.86, -0.01, 'f'),
    (0.89, 0.02, 'f'), (0.92, -0.03, 'f'), (0.95, 0.01, 'f'), (0.98, -0.01, 'f'), (0.85, 0.04, 'c'),
    (0.88, -0.05, 'c'), (0.90, 0.06, 't'),
]
elodie_5400_6200_core = [
    (0.80, 0.00, 'c'), (0.81, 0.02, 'c'), (0.82, -0.03, 'c'), (0.83, 0.03, 'c'), (0.84, -0.01, 'c'),
    (0.85, -0.06, 'c'), (0.86, 0.03, 'c'), (0.87, -0.02, 'c'), (0.88, 0.01, 'c'), (0.89, -0.04, 'c'),
    (0.90, 0.02, 'c'), (0.91, -0.02, 'c'), (0.93, 0.03, 'c'), (0.94, -0.02, 'c'), (0.96, 0.04, 'c'),
    (0.97, -0.02, 'c'), (0.99, 0.02, 'c'), (1.00, 0.05, 'c'), (1.01, 0.01, 'c'), (1.03, 0.03, 'c'),
    (1.05, 0.05, 'c'), (1.06, 0.00, 'c'), (1.08, 0.04, 'c'), (1.10, 0.01, 'c'), (0.82, 0.01, 'f'),
    (0.84, -0.03, 'f'), (0.87, 0.00, 'f'), (0.90, 0.00, 'f'), (0.93, 0.01, 'f'), (0.96, -0.02, 'f'),
    (1.00, 0.00, 'f'), (1.04, 0.02, 'f'),
]
stelib_5400_6200 = [
    (0.37, -0.02, 'c'), (0.45, -0.03, 'c'), (0.50, -0.08, 'c'), (0.52, 0.00, 'c'), (0.53, 0.01, 'c'),
    (0.54, -0.18, 'c'), (0.62, 0.01, 'f'), (0.65, 0.02, 'd'), (0.66, -0.05, 'c'), (0.67, -0.01, 'c'),
    (0.68, -0.17, 'c'), (0.72, 0.03, 'c'), (0.74, 0.04, 'c'), (0.75, 0.02, 'c'), (0.76, 0.05, 'c'),
    (0.77, -0.05, 't'), (0.78, 0.03, 'c'), (0.79, -0.03, 'c'), (0.80, -0.17, 'c'), (0.81, 0.01, 'c'),
    (0.82, -0.10, 'c'), (0.83, 0.04, 'c'), (0.84, -0.04, 'c'), (0.85, 0.02, 'c'), (0.87, 0.10, 's'),
    (0.88, 0.03, 'c'), (0.90, 0.05, 'c'), (0.92, 0.02, 'c'), (0.94, 0.04, 'c'), (0.96, 0.09, 't'),
    (0.97, 0.11, 't'), (0.98, 0.03, 'c'), (1.00, -0.19, 't'), (1.01, 0.05, 'c'), (1.02, 0.03, 'c'),
    (1.03, 0.14, 'k'), (1.04, -0.05, 'k'), (1.05, 0.02, 'c'), (1.06, -0.11, 'f'), (1.07, 0.04, 'c'),
    (1.09, 0.10, 'k'), (1.10, 0.05, 'c'), (1.12, 0.08, 'c'), (1.14, 0.03, 'c'), (1.16, 0.06, 'c'),
    (1.18, 0.02, 'c'), (1.20, 0.11, 'c'), (1.21, 0.18, 'c'), (1.25, 0.04, 'c'), (1.27, 0.00, 'c'),
    (1.28, 0.08, 'c'), (1.33, 0.21, 't'), (1.41, 0.08, 'c'), (1.52, 0.00, 'c'), (0.79, 0.02, 'f'),
    (0.84, 0.01, 'f'), (0.90, 0.02, 'f'), (1.00, 0.04, 'f'), (1.08, 0.03, 'f'), (1.15, 0.01, 'k'),
]
indous_5400_6200 = [
    (0.19, 0.00, 'c'), (0.22, 0.00, 't'), (0.24, -0.01, 'c'), (0.25, -0.03, 'c'), (0.27, 0.06, 't'),
    (0.28, -0.01, 'c'), (0.30, 0.00, 'c'), (0.34, 0.05, 'k'), (0.38, 0.02, 'c'), (0.40, -0.01, 'd'),
    (0.42, 0.03, 't'), (0.44, 0.01, 'c'), (0.47, 0.04, 'k'), (0.49, 0.01, 'c'), (0.50, -0.01, 's'),
    (0.52, 0.03, 'c'), (0.53, 0.06, 'c'), (0.54, 0.00, 'c'), (0.55, 0.05, 'c'), (0.56, -0.03, 'c'),
    (0.58, 0.02, 'k'), (0.60, 0.04, 'c'), (0.63, -0.06, 'f'), (0.65, -0.02, 'c'), (0.67, 0.03, 'c'),
    (0.69, 0.06, 'c'), (0.71, -0.14, 'c'), (0.73, 0.02, 'c'),
    (0.75, 0.03, 'c'), (0.76, -0.02, 'c'), (0.77, 0.05, 'c'), (0.78, 0.00, 'c'), (0.79, -0.04, 'c'),
    (0.80, 0.02, 'c'), (0.81, 0.06, 'c'), (0.82, -0.01, 'c'), (0.83, 0.21, 'd'), (0.83, -0.20, 'f'),
    (0.84, 0.03, 'c'), (0.85, -0.05, 'c'), (0.86, 0.01, 'c'), (0.87, 0.04, 'c'), (0.88, -0.02, 'c'),
    (0.89, 0.02, 'c'), (0.90, 0.05, 'c'), (0.91, -0.03, 'c'), (0.92, 0.01, 'c'), (0.93, 0.07, 'c'),
    (0.94, -0.01, 'c'), (0.95, 0.10, 'c'), (0.96, 0.03, 'c'), (0.97, 0.14, 'c'), (0.98, -0.02, 'c'),
    (0.99, 0.06, 'c'), (1.00, 0.01, 'c'), (1.01, 0.09, 'c'), (1.02, -0.04, 'c'), (1.03, 0.05, 'c'),
    (1.04, -0.13, 't'), (1.05, 0.14, 'k'), (1.06, 0.02, 'c'), (1.07, -0.06, 'c'), (1.08, 0.04, 'c'),
    (1.09, -0.02, 'c'), (1.10, -0.08, 'c'), (1.11, 0.27, 'c'), (1.12, -0.15, 'k'), (1.13, -0.19, 'f'),
    (1.14, -0.04, 'c'), (1.15, 0.06, 'c'), (1.16, -0.16, 't'), (1.17, -0.09, 'c'), (1.18, 0.00, 'c'),
    (1.19, -0.05, 'c'), (1.20, 0.05, 'c'), (1.21, -0.20, 'f'), (1.22, -0.08, 'c'), (1.23, 0.03, 'c'),
    (1.25, -0.03, 'c'), (1.28, 0.00, 'c'), (1.30, -0.06, 'c'), (1.31, -0.11, 't'), (1.32, 0.10, 't'),
    (1.34, 0.12, 'c'), (1.36, 0.03, 'c'), (1.38, 0.01, 's'), (1.42, 0.09, 'c'), (1.44, -0.19, 's'),
    (1.45, 0.02, 'c'), (0.80, 0.00, 'f'), (0.85, 0.01, 'f'), (0.90, -0.01, 'f'), (0.95, 0.00, 'f'),
    (1.00, -0.02, 'f'), (1.10, -0.01, 'f'),
]
indous_5400_6200_core = [
    (0.76, 0.01, 'c'), (0.77, -0.03, 'c'), (0.78, 0.04, 'c'), (0.79, 0.01, 'c'), (0.80, -0.02, 'c'),
    (0.81, 0.03, 'c'), (0.82, 0.00, 'c'), (0.83, 0.04, 'c'), (0.84, -0.02, 'c'), (0.85, 0.02, 'c'),
    (0.86, -0.03, 'c'), (0.87, 0.01, 'c'), (0.88, 0.04, 'c'), (0.89, -0.01, 'c'), (0.90, 0.03, 'c'),
    (0.91, 0.00, 'c'), (0.92, 0.05, 'c'), (0.93, 0.02, 'c'), (0.94, 0.08, 'c'), (0.96, 0.06, 'c'),
    (0.97, 0.03, 'c'), (0.98, 0.09, 'c'), (1.00, 0.05, 'c'), (1.01, 0.03, 'c'), (1.02, 0.07, 'c'),
    (1.04, 0.03, 'c'), (1.06, 0.05, 'c'), (1.08, -0.03, 'c'), (1.10, 0.02, 'c'), (1.12, -0.05, 'c'),
    (1.14, -0.10, 'c'), (0.78, 0.00, 'f'), (0.83, 0.01, 'f'), (0.88, 0.00, 'f'), (0.93, 0.03, 'f'),
    (0.98, 0.04, 'f'), (1.04, 0.01, 'f'),
]

# mean and +-1 sigma levels (upper, mean, lower) for each panel
levels_jones_4000_4300 = (0.08, 0.04, 0.0)
levels_stelib_4000_4300 = (0.09, 0.035, -0.02)
levels_indous_4000_4300 = (0.09, 0.02, -0.055)
levels_jones_4900_5300 = (0.11, 0.065, 0.01)
levels_stelib_4900_5300 = (0.04, -0.005, -0.035)
levels_indous_4900_5300 = (0.04, -0.005, -0.05)
levels_elodie_4600_5400 = (0.065, 0.02, -0.025)
levels_stelib_4600_5400 = (0.095, 0.03, -0.04)
levels_indous_4600_5400 = (0.075, 0.0, -0.08)
levels_elodie_4600_6200 = (0.10, 0.025, -0.055)
levels_stelib_4600_6200 = (0.19, 0.045, -0.10)
levels_indous_4600_6200 = (0.13, 0.0, -0.13)
levels_elodie_5400_6200 = (0.055, 0.005, -0.045)
levels_stelib_5400_6200 = (0.105, 0.01, -0.085)
levels_indous_5400_6200 = (0.06, 0.0, -0.05)

ylabels = ['Δ(b4000−b4300)', 'Δ(b4900−b5300)', 'Δ(b4600−b5400)',
           'Δ(b4600−b6200)', 'Δ(b5400−b6200)']

panels = [
    [(jones_4000_4300 + jones_4000_4300_core, 'Jones', levels_jones_4000_4300),
     (stelib_4000_4300, 'STELIB', levels_stelib_4000_4300),
     (indous_4000_4300 + indous_4000_4300_core, 'INDO-US', levels_indous_4000_4300)],
    [(jones_4900_5300 + jones_4900_5300_core, 'Jones', levels_jones_4900_5300),
     (stelib_4900_5300, 'STELIB', levels_stelib_4900_5300),
     (indous_4900_5300 + indous_4900_5300_core, 'INDO-US', levels_indous_4900_5300)],
    [(elodie_4600_5400 + elodie_4600_5400_core, 'ELODIE', levels_elodie_4600_5400),
     (stelib_4600_5400, 'STELIB', levels_stelib_4600_5400),
     (indous_4600_5400 + indous_4600_5400_core, 'INDO-US', levels_indous_4600_5400)],
    [(elodie_4600_6200 + elodie_4600_6200_core, 'ELODIE', levels_elodie_4600_6200),
     (stelib_4600_6200, 'STELIB', levels_stelib_4600_6200),
     (indous_4600_6200 + indous_4600_6200_core, 'INDO-US', levels_indous_4600_6200)],
    [(elodie_5400_6200 + elodie_5400_6200_core, 'ELODIE', levels_elodie_5400_6200),
     (stelib_5400_6200, 'STELIB', levels_stelib_5400_6200),
     (indous_5400_6200 + indous_5400_6200_core, 'INDO-US', levels_indous_5400_6200)],
]

# marker, size, face colour per point kind
kind_style = {
    'c': ('o', 14, 'none'),
    't': ('^', 14, 'none'),
    's': ('s', 11, 'none'),
    'd': ('d', 14, 'none'),
    'k': ('*', 34, 'black'),
    'f': ('*', 14, 'black'),
}

sns.set_style('ticks')
plt.rcParams['font.family'] = ['DejaVu Sans']
plt.rcParams['mathtext.fontset'] = 'dejavusans'

fig, axes = plt.subplots(5, 3, figsize=(6.95, 6.87), dpi=100)
fig.subplots_adjust(left=0.051, right=0.993, top=0.978, bottom=0.055,
                    wspace=0.151, hspace=0.367)

for r in range(5):
    for c in range(3):
        ax = axes[r][c]
        pts, name, lev = panels[r][c]
        df = pd.DataFrame(pts, columns=['theta', 'delta', 'kind'])
        for kind, (mk, size, fc) in kind_style.items():
            sub = df[df['kind'] == kind]
            if sub.empty:
                continue
            sns.scatterplot(data=sub, x='theta', y='delta', ax=ax, marker=mk, s=size,
                            facecolor=fc, edgecolor='black', linewidth=0.7, legend=False, zorder=3)
        ax.axhline(lev[0], color='black', lw=0.9, ls=(0, (5, 3)), zorder=2)
        ax.axhline(lev[1], color='black', lw=0.9, ls=(0, (6, 2, 1, 2, 1, 2, 1, 2)), zorder=2)
        ax.axhline(lev[2], color='black', lw=0.9, ls=(0, (5, 3)), zorder=2)

        ax.set_xlim(0, 1.6)
        ax.set_ylim(-0.4, 0.4)
        ax.set_xticks([0, 0.5, 1, 1.5])
        ax.set_xticklabels(['0', '0.5', '1', '1.5'], fontsize=6.5)
        ax.set_yticks([-0.4, -0.2, 0, 0.2, 0.4])
        ax.set_yticklabels(['−0.4', '−0.2', '0', '0.2', '0.4'], fontsize=6.5,
                           rotation=90, va='center')
        ax.xaxis.set_minor_locator(MultipleLocator(0.1))
        ax.yaxis.set_minor_locator(MultipleLocator(0.1))
        ax.tick_params(which='both', direction='in', top=True, right=True, width=0.7)
        ax.tick_params(which='major', length=4, pad=3)
        ax.tick_params(which='minor', length=2)
        for sp in ax.spines.values():
            sp.set_linewidth(0.8)

        ax.set_xlabel(r'$\theta$=5040/T$_{\mathbf{eff}}$', fontsize=7.5, labelpad=4)
        ax.set_ylabel(ylabels[r], fontsize=8, labelpad=2)

        if name == 'INDO-US':
            ax.text(0.93, 0.87, name, transform=ax.transAxes, ha='right', va='center',
                    fontsize=7.5)
        else:
            ax.text(0.93, 0.86, name, transform=ax.transAxes, ha='right', va='center',
                    fontsize=6.5, fontweight='bold', family='Liberation Serif')

fig.savefig('out.png', dpi=100)
